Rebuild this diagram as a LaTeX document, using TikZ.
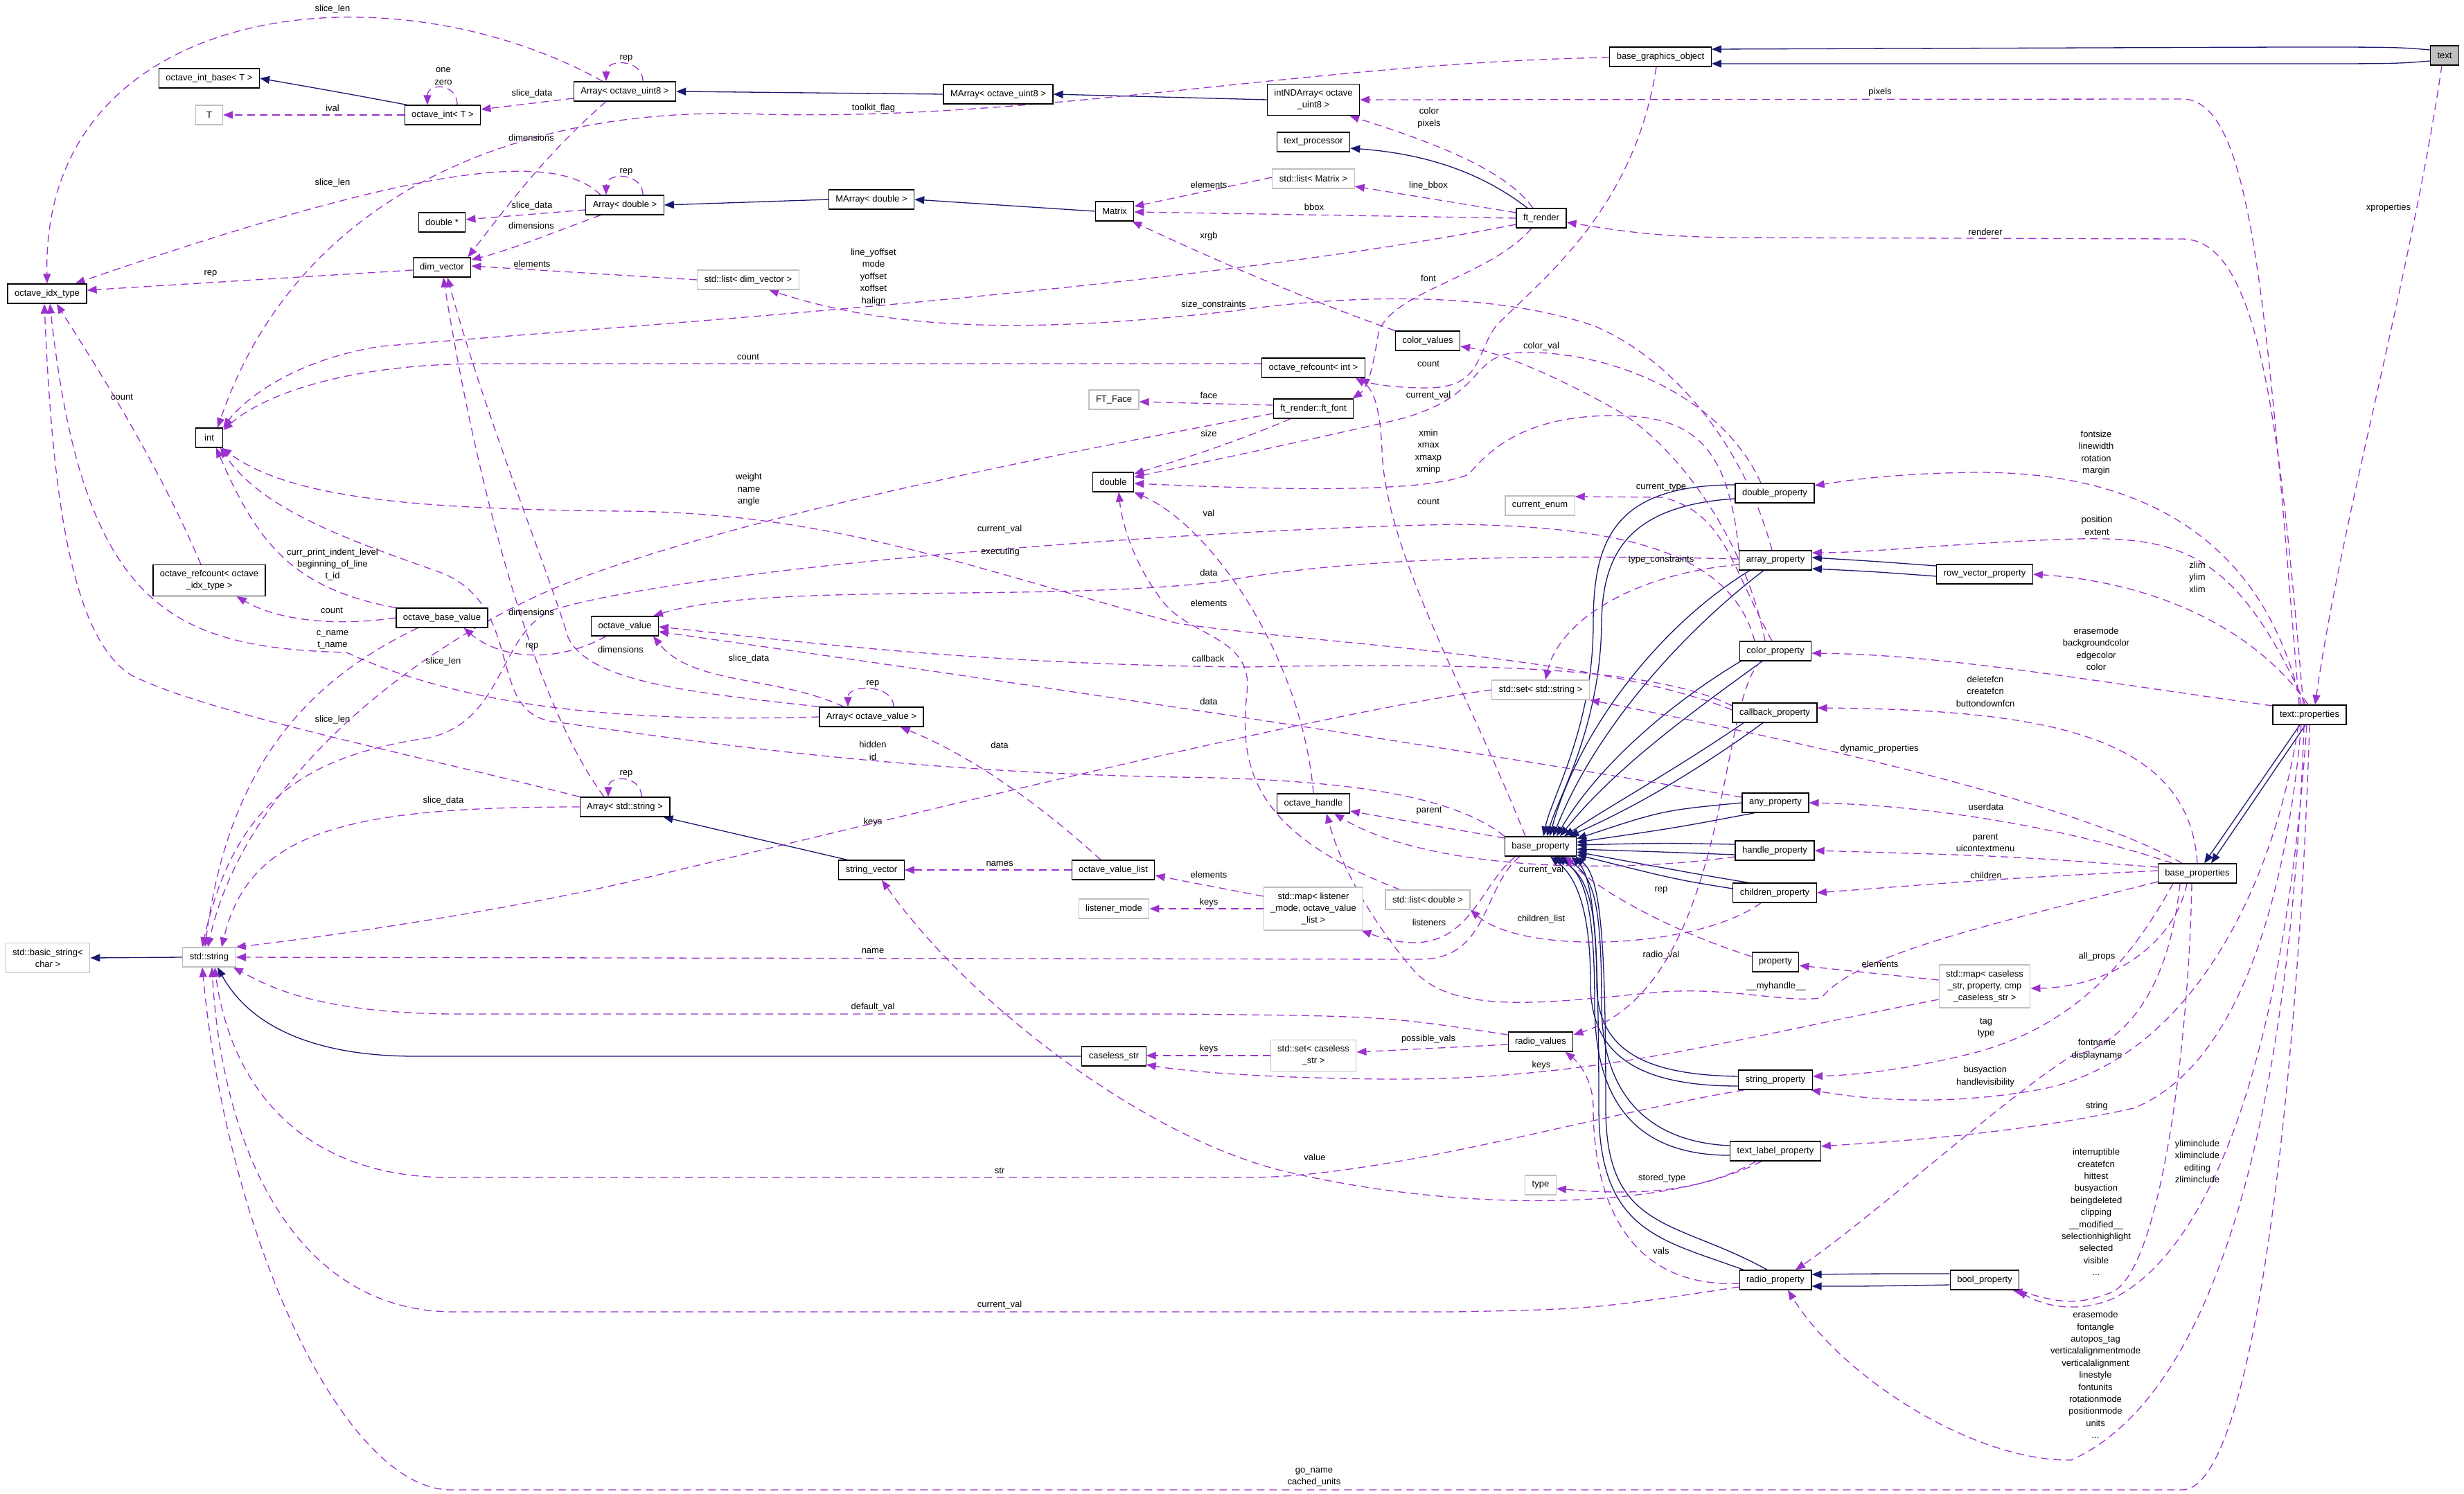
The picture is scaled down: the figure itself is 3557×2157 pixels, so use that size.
\documentclass[tikz,border=0pt]{standalone}
\usepackage{fontspec}
\setmainfont{Liberation Sans}
\usepackage{tikz}
\usetikzlibrary{arrows.meta,backgrounds}
\definecolor{navy}{HTML}{191970}
\definecolor{orchid}{HTML}{9A32CD}
\definecolor{lightgrey}{HTML}{BFBFBF}
\tikzset{
  cls/.style={
    draw=black,fill=white,line width=1.2pt,
    minimum height=28pt,minimum width=39pt,
    inner xsep=10pt,inner ysep=8pt,align=center,
    font=\fontsize{13}{17}\selectfont
  },
  extcls/.style={cls,draw=lightgrey},
  inh/.style={-{Triangle[length=14pt,width=11pt]},draw=navy,line width=1.3pt},
  dep/.style={-{Triangle[length=14pt,width=11pt]},draw=orchid,line width=1.3pt,dash pattern=on 11pt off 7pt},
  lbl/.style={font=\fontsize{13}{17.4}\selectfont,align=center,inner sep=0pt}
}
\begin{document}
\begin{tikzpicture}[x=1pt,y=-1pt]
\useasboundingbox (0,0) rectangle (3557,2157);
\node[cls] (idx) at (68,424) {octave\_idx\_type};
\node[cls] (intbase) at (302,113) {octave\_int\_base< T >};
\node[cls] (octint) at (639,166) {octave\_int< T >};
\node[extcls] (T) at (302,166) {T};
\node[cls] (arru8) at (902,132) {Array< octave\_uint8 >};
\node[cls] (marru8) at (1441,136) {MArray< octave\_uint8 >};
\node[cls] (intnd) at (1896,144) {intNDArray< octave\\\_uint8 >};
\node[cls] (bgo) at (2397,82) {base\_graphics\_object};
\node[cls,fill=lightgrey] (txt) at (3529,80) {text};
\node[cls] (arrd) at (902,296) {Array< double >};
\node[cls] (dblp) at (638,321) {double *};
\node[cls] (marrd) at (1258,288) {MArray< double >};
\node[cls] (matrix) at (1609,305) {Matrix};
\node[cls] (tproc) at (1896,205) {text\_processor};
\node[extcls] (listm) at (1896,258) {std::list< Matrix >};
\node[cls] (ftr) at (2225,315) {ft\_render};
\node[cls] (dimv) at (638,386) {dim\_vector};
\node[extcls] (listdv) at (1080,404) {std::list< dim\_vector >};
\node[cls] (colv) at (2061,492) {color\_values};
\node[cls] (rcint) at (1896,531) {octave\_refcount< int >};
\node[extcls] (ftface) at (1608,577) {FT\_Face};
\node[cls] (ftfont) at (1896,590) {ft\_render::ft\_font};
\node[cls] (int) at (302,632) {int};
\node[cls] (double) at (1607,696) {double};
\node[cls] (dprop) at (2562,712) {double\_property};
\node[extcls] (cenum) at (2223,730) {current\_enum};
\node[cls] (aprop) at (2563,809) {array\_property};
\node[cls] (rvprop) at (2865,829) {row\_vector\_property};
\node[cls] (rcidx) at (302,838) {octave\_refcount< octave\\\_idx\_type >};
\node[cls] (obv) at (638,892) {octave\_base\_value};
\node[cls] (oval) at (902,904) {octave\_value};
\node[cls] (cprop) at (2563,940) {color\_property};
\node[extcls] (setstr) at (2224,996) {std::set< std::string >};
\node[cls] (cbprop) at (2562,1029) {callback\_property};
\node[cls] (tprops) at (3334,1032) {text::properties};
\node[cls] (arrov) at (1258,1035) {Array< octave\_value >};
\node[cls] (arrs) at (902,1165) {Array< std::string >};
\node[cls] (anyprop) at (2563,1159) {any\_property};
\node[cls] (ohandle) at (1896,1160) {octave\_handle};
\node[cls] (bprop) at (2224,1222) {base\_property};
\node[cls] (hprop) at (2562,1228) {handle\_property};
\node[cls] (strvec) at (1258,1256) {string\_vector};
\node[cls] (ovl) at (1607,1256) {octave\_value\_list};
\node[cls] (bprops) at (3172,1261) {base\_properties};
\node[cls] (chprop) at (2562,1289) {children\_property};
\node[extcls] (lmode) at (1608,1312) {listener\_mode};
\node[extcls] (maplm) at (1896,1312) {std::map< listener\\\_mode, octave\_value\\\_list >};
\node[extcls] (listd) at (2061,1299) {std::list< double >};
\node[extcls] (bstr) at (69,1383) {std::basic\_string<\\char >};
\node[extcls] (stdstr) at (302,1382) {std::string};
\node[cls] (prop) at (2563,1389) {property};
\node[extcls] (mapcs) at (2865,1424) {std::map< caseless\\\_str, property, cmp\\\_caseless\_str >};
\node[cls] (rvals) at (2224,1504) {radio\_values};
\node[extcls] (setcs) at (1896,1524) {std::set< caseless\\\_str >};
\node[cls] (cstr) at (1608,1525) {caseless\_str};
\node[cls] (sprop) at (2563,1559) {string\_property};
\node[cls] (tlprop) at (2563,1662) {text\_label\_property};
\node[extcls] (type) at (2224,1711) {type};
\node[cls] (rprop) at (2563,1848) {radio\_property};
\node[cls] (boolp) at (2865,1848) {bool\_property};

\node[lbl] (lb1) at (480,13) {slice\_len};
\node[lbl] (lb2) at (640,110) {one\\zero};
\node[lbl] (lb3) at (768,135) {slice\_data};
\node[lbl] (lb4) at (480,156) {ival};
\node[lbl] (lb5) at (767,199) {dimensions};
\node[lbl] (lb6) at (480,264) {slice\_len};
\node[lbl] (lb7) at (768,297) {slice\_data};
\node[lbl] (lb8) at (767,326) {dimensions};
\node[lbl] (lb9) at (768,381) {elements};
\node[lbl] (lb10) at (304,395) {rep};
\node[lbl] (lb11) at (176,573) {count};
\node[lbl] (lb12) at (904,84) {rep};
\node[lbl] (lb13) at (904,248) {rep};
\node[lbl] (lb14) at (1261,156) {toolkit\_flag};
\node[lbl] (lb15) at (1745,267) {elements};
\node[lbl] (lb16) at (1745,341) {xrgb};
\node[lbl] (lb17) at (1261,400) {line\_yoffset\\mode\\yoffset\\xoffset\\halign};
\node[lbl] (lb18) at (1752,440) {size\_constraints};
\node[lbl] (lb19) at (1080,515) {count};
\node[lbl] (lb20) at (1745,571) {face};
\node[lbl] (lb21) at (1745,626) {size};
\node[lbl] (lb22) at (1081,707) {weight\\name\\angle};
\node[lbl] (lb23) at (2063,170) {color\\pixels};
\node[lbl] (lb24) at (2062,268) {line\_bbox};
\node[lbl] (lb25) at (1897,299) {bbox};
\node[lbl] (lb26) at (2062,402) {font};
\node[lbl] (lb27) at (2225,500) {color\_val};
\node[lbl] (lb28) at (2062,525) {count};
\node[lbl] (lb29) at (2062,571) {current\_val};
\node[lbl] (lb30) at (2062,652) {xmin\\xmax\\xmaxp\\xminp};
\node[lbl] (lb31) at (2062,724) {count};
\node[lbl] (lb32) at (2398,704) {current\_type};
\node[lbl] (lb33) at (2714,133) {pixels};
\node[lbl] (lb34) at (3448,300) {xproperties};
\node[lbl] (lb35) at (2866,335) {renderer};
\node[lbl] (lb36) at (3026,654) {fontsize\\linewidth\\rotation\\margin};
\node[lbl] (lb37) at (480,815) {curr\_print\_indent\_level\\beginning\_of\_line\\t\_id};
\node[lbl] (lb38) at (479,881) {count};
\node[lbl] (lb39) at (480,924) {c\_name\\t\_name};
\node[lbl] (lb40) at (768,933) {rep};
\node[lbl] (lb41) at (767,884) {dimensions};
\node[lbl] (lb42) at (896,938) {dimensions};
\node[lbl] (lb43) at (640,955) {slice\_len};
\node[lbl] (lb44) at (480,1039) {slice\_len};
\node[lbl] (lb45) at (640,1156) {slice\_data};
\node[lbl] (lb46) at (1443,764) {current\_val};
\node[lbl] (lb47) at (1745,741) {val};
\node[lbl] (lb48) at (1444,797) {executing};
\node[lbl] (lb49) at (1745,827) {data};
\node[lbl] (lb50) at (1745,871) {elements};
\node[lbl] (lb51) at (1744,951) {callback};
\node[lbl] (lb52) at (1081,951) {slice\_data};
\node[lbl] (lb53) at (1260,987) {rep};
\node[lbl] (lb54) at (1745,1013) {data};
\node[lbl] (lb55) at (1260,1084) {hidden\\id};
\node[lbl] (lb56) at (1443,1076) {data};
\node[lbl] (lb57) at (904,1117) {rep};
\node[lbl] (lb58) at (1260,1187) {keys};
\node[lbl] (lb59) at (1443,1247) {names};
\node[lbl] (lb60) at (1745,1263) {elements};
\node[lbl] (lb61) at (1745,1303) {keys};
\node[lbl] (lb62) at (1260,1373) {name};
\node[lbl] (lb63) at (2398,808) {type\_constraints};
\node[lbl] (lb64) at (2063,1171) {parent};
\node[lbl] (lb65) at (2225,1256) {current\_val};
\node[lbl] (lb66) at (2398,1285) {rep};
\node[lbl] (lb67) at (2063,1332) {listeners};
\node[lbl] (lb68) at (2225,1327) {children\_list};
\node[lbl] (lb69) at (2398,1379) {radio\_val};
\node[lbl] (lb70) at (2564,1424) {\_\_myhandle\_\_};
\node[lbl] (lb71) at (3027,759) {position\\extent};
\node[lbl] (lb72) at (3172,833) {zlim\\ylim\\xlim};
\node[lbl] (lb73) at (3026,937) {erasemode\\backgroundcolor\\edgecolor\\color};
\node[lbl] (lb74) at (2866,998) {deletefcn\\createfcn\\buttondownfcn};
\node[lbl] (lb75) at (2713,1081) {dynamic\_properties};
\node[lbl] (lb76) at (2867,1165) {userdata};
\node[lbl] (lb77) at (2866,1217) {parent\\uicontextmenu};
\node[lbl] (lb78) at (2867,1264) {children};
\node[lbl] (lb79) at (2714,1392) {elements};
\node[lbl] (lb80) at (3027,1381) {all\_props};
\node[lbl] (lb81) at (1260,1454) {default\_val};
\node[lbl] (lb82) at (1745,1514) {keys};
\node[lbl] (lb83) at (1443,1690) {str};
\node[lbl] (lb84) at (1443,1884) {current\_val};
\node[lbl] (lb85) at (2062,1500) {possible\_vals};
\node[lbl] (lb86) at (2225,1538) {keys};
\node[lbl] (lb87) at (1898,1671) {value};
\node[lbl] (lb88) at (2399,1701) {stored\_type};
\node[lbl] (lb89) at (2398,1806) {vals};
\node[lbl] (lb90) at (1897,2133) {go\_name\\cached\_units};
\node[lbl] (lb91) at (2867,1484) {tag\\type};
\node[lbl] (lb92) at (3027,1515) {fontname\\displayname};
\node[lbl] (lb93) at (2866,1554) {busyaction\\handlevisibility};
\node[lbl] (lb94) at (3027,1597) {string};
\node[lbl] (lb95) at (3026,1750) {interruptible\\createfcn\\hittest\\busyaction\\beingdeleted\\clipping\\\_\_modified\_\_\\selectionhighlight\\selected\\visible\\...};
\node[lbl] (lb96) at (3172,1677) {yliminclude\\xliminclude\\editing\\zliminclude};
\node[lbl] (lb97) at (3025,1985) {erasemode\\fontangle\\autopos\_tag\\verticalalignmentmode\\verticalalignment\\linestyle\\fontunits\\rotationmode\\positionmode\\units\\...};

\begin{scope}[on background layer]
\draw[inh] ([xshift=4pt]octint.north west) .. controls (500,135) .. (intbase.east);
\draw[inh] (marru8.west) -- (arru8.east);
\draw[inh] (intnd.west) -- (marru8.east);
\draw[inh] (marrd.west) -- (arrd.east);
\draw[inh] (matrix.west) -- (marrd.east);
\draw[inh] ([xshift=-20pt]ftr.north) .. controls (2140,250) and (2060,222) .. ([yshift=-9pt]tproc.east);
\draw[inh] ([yshift=8pt]txt.west) .. controls (3460,68) .. (3300,68) -- ([yshift=11pt]bgo.east);
\draw[inh] ([yshift=-8pt]txt.west) .. controls (3460,92) .. (3300,92) -- ([yshift=-10pt]bgo.east);
\draw[inh] ([xshift=-35pt]strvec.north) -- ([xshift=-10pt]arrs.south east);
\draw[inh] (stdstr.west) -- (bstr.east);
\draw[inh] (cstr.west) -- (600,1525) .. controls (450,1525) and (360,1480) .. ([xshift=12pt]stdstr.south);
\draw[inh] ([xshift=-14pt]tprops.south) -- ([xshift=10pt]bprops.north);
\draw[inh] ([xshift=-6pt]tprops.south) -- ([xshift=20pt]bprops.north);
\draw[inh] ([yshift=12pt]rvprop.west) .. controls (2700,810) .. ([yshift=4pt]aprop.east);
\draw[inh] ([yshift=-3pt]rvprop.west) .. controls (2700,825) .. ([yshift=-12pt]aprop.east);
\draw[inh] ([yshift=9pt]boolp.west) .. controls (2700,1839) .. ([yshift=8pt]rprop.east);
\draw[inh] ([yshift=-7pt]boolp.west) .. controls (2700,1857) .. ([yshift=-9pt]rprop.east);
\draw[inh] ([yshift=12pt]dprop.west) .. controls (2330,700) and (2300,780) .. (2300,900) .. controls (2300,1050) and (2240,1150) .. ([xshift=4pt]bprop.north);
\draw[inh] ([yshift=-8pt]dprop.west) .. controls (2350,730) and (2313,800) .. (2312,900) .. controls (2310,1050) and (2250,1150) .. ([xshift=9pt]bprop.north);
\draw[inh] ([xshift=-37pt]aprop.south) .. controls (2400,900) and (2280,1050) .. ([xshift=13pt]bprop.north);
\draw[inh] ([xshift=-17pt]aprop.south) .. controls (2420,920) and (2300,1060) .. ([xshift=18pt]bprop.north);
\draw[inh] ([xshift=-50pt]cprop.south) .. controls (2420,1010) and (2310,1100) .. ([xshift=23pt]bprop.north);
\draw[inh] ([xshift=-19pt]cprop.south) .. controls (2440,1030) and (2330,1110) .. ([xshift=28pt]bprop.north);
\draw[inh] ([xshift=-45pt]cbprop.south) .. controls (2420,1110) and (2330,1160) .. ([xshift=34pt]bprop.north);
\draw[inh] ([xshift=-17pt]cbprop.south) .. controls (2440,1120) and (2350,1170) .. ([xshift=41pt]bprop.north);
\draw[inh] (anyprop.west) .. controls (2400,1170) .. ([yshift=11pt]bprop.east);
\draw[inh] ([xshift=-30pt]anyprop.south) .. controls (2420,1195) .. ([yshift=6pt]bprop.east);
\draw[inh] ([yshift=9pt]hprop.west) .. controls (2400,1217) .. ([yshift=2pt]bprop.east);
\draw[inh] ([yshift=-6pt]hprop.west) .. controls (2400,1230) .. ([yshift=-4pt]bprop.east);
\draw[inh] ([xshift=-38pt]chprop.north) .. controls (2450,1262) .. ([yshift=-8pt]bprop.east);
\draw[inh] ([yshift=6pt]chprop.west) .. controls (2420,1270) .. ([yshift=-12pt]bprop.east);
\draw[inh] ([yshift=5pt]sprop.west) .. controls (2380,1552) and (2305,1520) .. (2305,1420) .. controls (2305,1300) and (2290,1262) .. ([xshift=19pt]bprop.south);
\draw[inh] ([yshift=-9pt]sprop.west) .. controls (2360,1568) and (2296,1520) .. (2296,1420) .. controls (2296,1300) and (2270,1262) .. ([xshift=14pt]bprop.south);
\draw[inh] ([yshift=8pt]tlprop.west) .. controls (2400,1650) and (2312,1600) .. (2312,1450) .. controls (2312,1300) and (2300,1262) .. ([xshift=29pt]bprop.south);
\draw[inh] ([yshift=-6pt]tlprop.west) .. controls (2380,1668) and (2302,1610) .. (2302,1450) .. controls (2302,1300) and (2285,1262) .. ([xshift=24pt]bprop.south);
\draw[inh] ([xshift=-12pt]rprop.north) .. controls (2420,1760) and (2318,1780) .. (2318,1600) .. controls (2318,1350) and (2310,1265) .. ([xshift=50pt]bprop.south);
\draw[inh] ([xshift=-46pt]rprop.north) .. controls (2400,1790) and (2308,1780) .. (2308,1600) .. controls (2308,1350) and (2300,1265) .. ([xshift=44pt]bprop.south);

\draw[dep] ([xshift=-32pt]arru8.north) .. controls (560,-55) and (60,0) .. (idx.north);
\draw[dep] ([xshift=26pt]arru8.north) .. controls +(0,-33) and +(0,-33) .. ([xshift=-27pt]arru8.north);
\draw[dep] ([yshift=-10pt]arru8.west) -- ([yshift=8pt]octint.east);
\draw[dep] ([xshift=-27pt]arru8.south) .. controls (790,220) and (730,300) .. ([xshift=-5pt]dimv.north east);
\draw[dep] ([xshift=21pt]octint.north) .. controls +(0,-32) and +(0,-32) .. ([xshift=-22pt]octint.north);
\draw[dep] (octint.west) -- (T.east);
\draw[dep] ([xshift=-35pt]arrd.north) .. controls (800,215) and (600,240) .. ([xshift=-17pt]idx.north east);
\draw[dep] ([xshift=26pt]arrd.north) .. controls +(0,-33) and +(0,-33) .. ([xshift=-27pt]arrd.north);
\draw[dep] ([yshift=-7pt]arrd.west) -- ([yshift=4pt]dblp.east);
\draw[dep] ([xshift=-35pt]arrd.south) .. controls (800,335) and (740,360) .. ([yshift=11pt]dimv.east);
\draw[dep] ([yshift=-4pt]dimv.west) .. controls (400,402) .. ([yshift=5pt]idx.east);
\draw[dep] (listdv.west) -- ([yshift=2pt]dimv.east);
\draw[dep] ([xshift=-12pt]rcidx.north) .. controls (220,650) and (120,500) .. ([xshift=14pt]idx.south);
\draw[dep] (arrs.north west) .. controls (600,1090) and (300,1030) .. (190,975) .. controls (100,920) and (75,700) .. ([xshift=-4pt]idx.south);
\draw[dep] (arrov.west) .. controls (850,1045) and (650,1010) .. (500,942) .. controls (250,935) and (120,880) .. ([xshift=4pt]idx.south);
\draw[dep] (obv.west) .. controls (480,905) and (400,895) .. ([xshift=-42pt]rcidx.south east);
\draw[dep] (obv.north west) .. controls (420,850) and (370,780) .. ([xshift=10pt]int.south);
\draw[dep] ([xshift=-35pt]obv.south) .. controls (450,980) and (330,1100) .. ([xshift=-6pt]stdstr.north);
\draw[dep] ([xshift=-27pt]oval.south) .. controls (800,960) and (720,950) .. ([xshift=-35pt]obv.south east);
\draw[dep] ([xshift=-40pt]arrov.north) .. controls (1120,975) and (1000,990) .. ([xshift=-8pt]oval.south east);
\draw[dep] ([xshift=32pt]arrov.north) .. controls +(0,-33) and +(0,-33) .. ([xshift=-34pt]arrov.north);
\draw[dep] (arrov.north west) .. controls (1000,1000) and (850,985) .. (820,920) .. controls (790,820) and (700,600) .. ([xshift=8pt]dimv.south);
\draw[dep] ([xshift=-30pt]arrs.north) .. controls (760,1000) and (680,650) .. ([xshift=2pt]dimv.south);
\draw[dep] ([xshift=24pt]arrs.north) .. controls +(0,-32) and +(0,-32) .. ([xshift=-24pt]arrs.north);
\draw[dep] (arrs.west) .. controls (500,1165) and (360,1200) .. ([xshift=18pt]stdstr.north);
\draw[dep] ([xshift=-18pt]ovl.north) .. controls (1500,1160) and (1400,1090) .. ([xshift=-34pt]arrov.south east);
\draw[dep] (ovl.west) -- (strvec.east);
\draw[dep] ([yshift=18pt]maplm.west) -- ([yshift=-8pt]ovl.east);
\draw[dep] (maplm.west) -- (lmode.east);
\draw[dep] (setstr.west) .. controls (1900,1030) and (1300,1180) .. (900,1275) .. controls (700,1320) and (450,1355) .. (stdstr.north east);
\draw[dep] ([xshift=-30pt]bprop.south) .. controls (2140,1280) and (2150,1385) .. (2050,1385) -- (stdstr.east);
\draw[dep] (bprop.north west) .. controls (2100,1150) and (1950,1125) .. (1700,1122) .. controls (1300,1115) and (1000,1070) .. (800,1042) .. controls (700,1030) and (760,880) .. (640,828) .. controls (520,785) and (380,740) .. ([xshift=16pt]int.south);
\draw[dep] ([xshift=-22pt]bprop.north) .. controls (2120,1000) and (2000,800) .. (1995,650) .. controls (1992,580) and (1980,560) .. ([xshift=-14pt]rcint.south east);
\draw[dep] ([yshift=12pt]bprop.west) -- ([yshift=-11pt]ohandle.east);
\draw[dep] ([xshift=-36pt]bprop.south) .. controls (2130,1280) and (2120,1400) .. ([xshift=-3pt]maplm.south east);
\draw[dep] ([yshift=6pt]rcint.west) -- (700,525) .. controls (500,525) and (380,570) .. ([yshift=11pt]int.east);
\draw[dep] ([xshift=-12pt]ftr.north) .. controls (2170,240) and (2050,200) .. ([xshift=-15pt]intnd.south east);
\draw[dep] ([yshift=8pt]ftr.west) -- ([yshift=-11pt]listm.east);
\draw[dep] (ftr.west) -- ([yshift=-1pt]matrix.east);
\draw[dep] ([xshift=-14pt]ftr.south) .. controls (2150,400) and (2010,420) .. (1990,480) .. controls (1982,530) and (1975,560) .. ([xshift=-2pt]ftfont.north east);
\draw[dep] ([yshift=-9pt]ftr.west) .. controls (1700,420) and (900,470) .. (550,500) .. controls (420,520) and (350,580) .. (int.north east);
\draw[dep] ([yshift=5pt]ftfont.west) -- ([yshift=-3pt]ftface.east);
\draw[dep] ([xshift=-33pt]ftfont.south) .. controls (1780,640) and (1700,665) .. ([yshift=12pt]double.east);
\draw[dep] ([yshift=-7pt]ftfont.west) .. controls (1500,660) and (1100,740) .. (850,830) .. controls (650,900) and (360,1100) .. ([xshift=-2pt]stdstr.north);
\draw[dep] ([yshift=2pt]listm.west) -- ([yshift=7pt]matrix.east);
\draw[dep] (colv.north west) .. controls (1850,420) and (1700,350) .. ([xshift=-3pt]matrix.south east);
\draw[dep] ([yshift=-1pt]bgo.west) .. controls (1900,90) and (1500,175) .. (1100,165) .. controls (750,150) and (430,280) .. ([xshift=-8pt]int.north east);
\draw[dep] ([xshift=-6pt]bgo.south) .. controls (2360,300) and (2230,400) .. (2160,470) .. controls (2130,510) and (2140,560) .. (2060,560) .. controls (2000,560) and (1975,552) .. ([xshift=-8pt]rcint.south east);
\draw[dep] ([xshift=-4pt]txt.south) .. controls (3480,400) and (3380,750) .. ([xshift=8pt]tprops.north);
\draw[dep] ([xshift=-15pt]tprops.north) .. controls (3270,420) and (3250,143) .. (3150,143) -- (intnd.east);
\draw[dep] ([xshift=-9pt]tprops.north) .. controls (3290,600) and (3260,345) .. (3150,345) -- (2500,343) .. controls (2380,342) and (2320,330) .. ([yshift=-6pt]ftr.east);
\draw[dep] ([xshift=-12pt]tprops.north) .. controls (3280,830) and (3150,680) .. (2850,682) .. controls (2720,684) and (2660,695) .. ([yshift=11pt]dprop.east);
\draw[dep] ([xshift=-6pt]tprops.north) .. controls (3230,800) and (3150,775) .. (3000,778) .. controls (2850,782) and (2700,798) .. ([yshift=11pt]aprop.east);
\draw[dep] ([xshift=-2pt]tprops.north) .. controls (3250,900) and (3100,840) .. (rvprop.east);
\draw[dep] ([yshift=13pt]tprops.west) .. controls (3000,980) and (2800,945) .. ([yshift=-3pt]cprop.east);
\draw[dep] ([xshift=-4pt]tprops.south) .. controls (3300,1500) and (3200,1800) .. (3050,1875) .. controls (2990,1900) and (2940,1880) .. ([xshift=-3pt]boolp.south east);
\draw[dep] ([xshift=-8pt]tprops.south) .. controls (3310,1500) and (3230,2000) .. (2990,2108) .. controls (2850,2110) and (2660,1990) .. ([xshift=18pt]rprop.south);
\draw[dep] ([xshift=-12pt]tprops.south) .. controls (3300,1300) and (3230,1540) .. (3080,1600) .. controls (2900,1640) and (2700,1650) .. ([yshift=7pt]tlprop.east);
\draw[dep] ([xshift=-16pt]tprops.south) .. controls (3280,1300) and (3150,1530) .. (2950,1572) .. controls (2800,1600) and (2680,1585) .. ([xshift=-3pt]sprop.south east);
\draw[dep] (tprops.south) .. controls (3320,1500) and (3260,2151) .. (3150,2151) -- (650,2151) .. controls (500,2150) and (330,1800) .. ([xshift=-10pt]stdstr.south);
\draw[dep] (bprops.north) .. controls (3160,1060) and (2950,1025) .. ([yshift=7pt]cbprop.east);
\draw[dep] ([xshift=-22pt]bprops.north) .. controls (3000,1160) and (2600,1070) .. (setstr.south east);
\draw[dep] ([xshift=-36pt]bprops.north) .. controls (3000,1200) and (2800,1163) .. (anyprop.east);
\draw[dep] ([yshift=9pt]bprops.west) .. controls (2900,1236) .. (hprop.east);
\draw[dep] ([yshift=4pt]bprops.west) .. controls (2900,1268) .. (chprop.east);
\draw[dep] ([yshift=-12pt]bprops.west) .. controls (2850,1340) and (2680,1380) .. (2630,1440) .. controls (2590,1450) and (2500,1425) .. (2400,1432) .. controls (2250,1445) and (2100,1470) .. (2040,1400) .. controls (1980,1330) and (1935,1250) .. ([xshift=19pt]ohandle.south);
\draw[dep] ([xshift=-15pt]bprops.south) .. controls (3140,1360) and (3050,1425) .. ([yshift=-3pt]mapcs.east);
\draw[dep] ([xshift=-35pt]bprops.south) .. controls (3080,1380) and (3000,1480) .. (2850,1520) .. controls (2750,1545) and (2680,1552) .. ([yshift=5pt]sprop.east);
\draw[dep] ([xshift=-25pt]bprops.south) .. controls (3130,1440) and (3060,1510) .. (2990,1525) .. controls (2900,1580) and (2700,1760) .. ([xshift=29pt]rprop.north);
\draw[dep] ([xshift=-8pt]bprops.south) .. controls (3160,1500) and (3120,1830) .. (3050,1865) .. controls (2990,1890) and (2960,1875) .. ([xshift=-10pt]boolp.south east);
\draw[dep] ([yshift=9pt]mapcs.west) -- ([yshift=-5pt]prop.east);
\draw[dep] ([yshift=-19pt]mapcs.west) .. controls (2500,1500) and (2300,1560) .. (2000,1558) .. controls (1800,1556) and (1700,1545) .. ([yshift=-12pt]cstr.east);
\draw[dep] ([yshift=8pt]prop.west) .. controls (2400,1340) and (2300,1280) .. ([xshift=36pt]bprop.south);
\draw[dep] ([yshift=10pt]rvals.west) .. controls (2000,1467) .. (1700,1464) -- (650,1464) .. controls (450,1462) and (380,1420) .. ([xshift=-4pt]stdstr.south east);
\draw[dep] ([yshift=-4pt]rvals.west) -- ([yshift=5pt]setcs.east);
\draw[dep] (setcs.west) -- ([yshift=1pt]cstr.east);
\draw[dep] ([xshift=-20pt]cprop.south) .. controls (2480,1000) and (2500,1420) .. ([yshift=10pt]rvals.east);
\draw[dep] ([yshift=-5pt]rprop.west) .. controls (2330,1860) and (2300,1700) .. (2300,1600) .. controls (2300,1560) and (2280,1535) .. ([xshift=-12pt]rvals.south east);
\draw[dep] ([yshift=-10pt]rprop.west) .. controls (2300,1890) .. (2100,1894) -- (650,1894) .. controls (420,1890) and (320,1650) .. ([xshift=4pt]stdstr.south);
\draw[dep] ([xshift=-45pt]sprop.south) .. controls (2300,1610) and (2000,1700) .. (1800,1700) -- (650,1700) .. controls (420,1700) and (330,1550) .. ([xshift=8pt]stdstr.south);
\draw[dep] ([xshift=-20pt]tlprop.south) .. controls (2400,1750) and (2100,1750) .. (1850,1690) .. controls (1650,1640) and (1400,1450) .. ([xshift=15pt]strvec.south);
\draw[dep] ([xshift=-28pt]tlprop.south) .. controls (2450,1725) and (2350,1725) .. ([yshift=-5pt]type.east);
\draw[dep] ([xshift=-20pt]chprop.south) .. controls (2450,1370) and (2200,1380) .. (listd.south east);
\draw[dep] ([yshift=-9pt]hprop.west) .. controls (2300,1265) and (2050,1250) .. ([xshift=30pt]ohandle.south);
\draw[dep] (ohandle.north) .. controls (1880,950) and (1750,760) .. (double.south east);
\draw[dep] ([xshift=-40pt]listd.north) .. controls (1800,1200) and (1790,1100) .. (1800,1000) .. controls (1810,920) and (1720,920) .. (1680,870) .. controls (1640,820) and (1620,760) .. ([xshift=8pt]double.south);
\draw[dep] ([xshift=-20pt]dprop.north) .. controls (2480,560) and (2300,500) .. (2180,510) .. controls (2120,520) and (2140,580) .. (2000,610) .. controls (1800,655) and (1700,675) .. ([yshift=7pt]double.east);
\draw[dep] (aprop.north west) .. controls (2495,650) and (2450,600) .. (2330,600) .. controls (2200,600) and (2150,650) .. (2120,685) .. controls (2050,715) and (1800,705) .. ([yshift=-2pt]double.east);
\draw[dep] ([xshift=-5pt]aprop.north) .. controls (2520,650) and (2420,520) .. (2300,470) .. controls (2150,420) and (1950,425) .. (1780,449) .. controls (1500,480) and (1300,480) .. ([xshift=30pt]listdv.south);
\draw[dep] ([yshift=-6pt]aprop.west) .. controls (2350,830) and (2250,900) .. ([xshift=7pt]setstr.north);
\draw[dep] ([yshift=2pt]aprop.west) .. controls (2200,800) and (1950,805) .. (1760,840) .. controls (1500,870) and (1100,840) .. ([xshift=-8pt]oval.north east);
\draw[dep] ([xshift=-30pt]cprop.north) .. controls (2500,800) and (2350,760) .. (2100,757) .. controls (1700,765) and (1000,820) .. (800,880) .. controls (720,910) and (730,1040) .. (620,1065) .. controls (450,1090) and (340,1150) .. ([xshift=-10pt]stdstr.north);
\draw[dep] ([xshift=-15pt]cprop.north) .. controls (2520,780) and (2420,640) .. (2330,590) .. controls (2250,545) and (2170,510) .. ([yshift=-8pt]colv.east);
\draw[dep] ([xshift=-5pt]cprop.north) .. controls (2500,820) and (2490,740) .. (2400,718) -- ([yshift=13pt]cenum.east);
\draw[dep] ([yshift=4pt]cbprop.west) .. controls (2300,945) and (1900,930) .. (1700,900) .. controls (1400,820) and (1200,740) .. (900,738) .. controls (600,735) and (420,720) .. ([xshift=18pt]int.south);
\draw[dep] ([yshift=10pt]cbprop.west) .. controls (2400,970) and (2200,955) .. (1800,963) .. controls (1400,960) and (1100,920) .. ([yshift=-1pt]oval.east);
\draw[dep] ([yshift=8pt]anyprop.west) .. controls (2100,1080) and (1500,990) .. ([yshift=-8pt]oval.east);
\end{scope}
\end{tikzpicture}
\end{document}
